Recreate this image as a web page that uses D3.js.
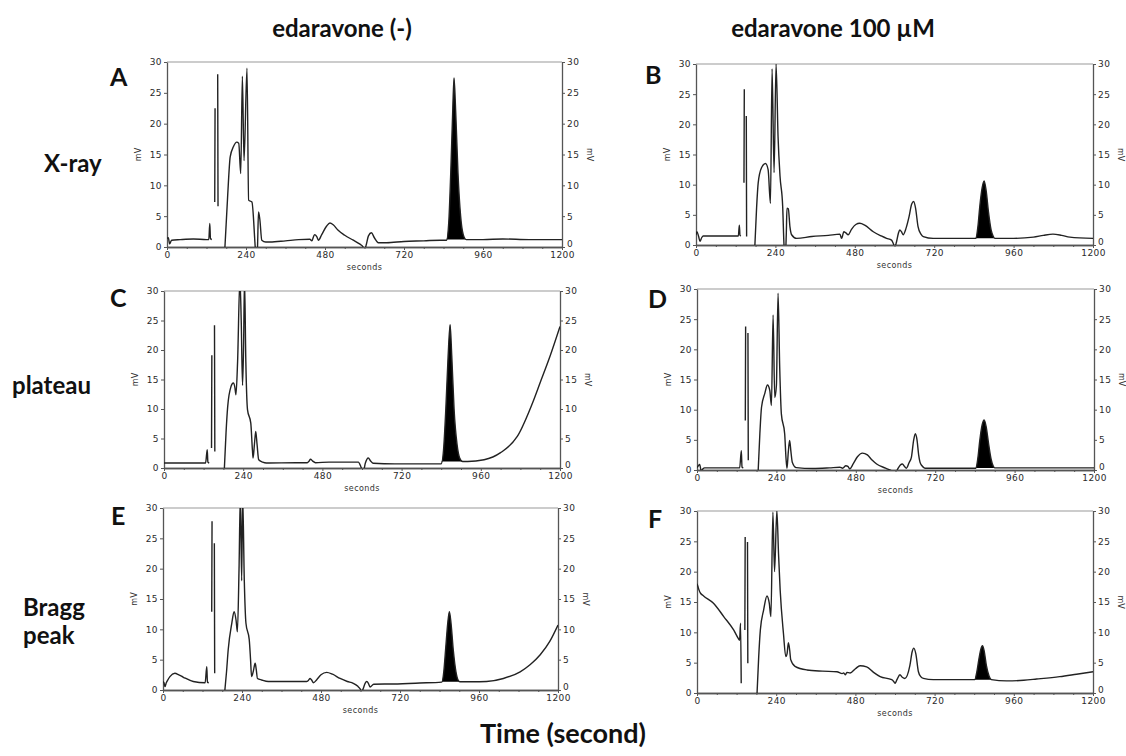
<!DOCTYPE html>
<html>
<head>
<meta charset="utf-8">
<script src="https://cdn.jsdelivr.net/npm/d3@7"></script>
<style>
  html, body { margin: 0; padding: 0; background: #fff; }
  svg text { font-family: "DejaVu Sans", Arial, sans-serif; }
  .big { font-family: Lato, "Open Sans", sans-serif !important; font-weight: 700; fill: #111; }
</style>
</head>
<body>
<svg id="chart" width="1126" height="756"></svg>
<script>
// ---- data (seconds, mV); null marks a break in the trace ----
const columnTitles = ["edaravone (-)", "edaravone 100 \u00b5M"];
const rowLabels = [["X-ray"], ["plateau"], ["Bragg", "peak"]];
const panelLetters = ["A", "B", "C", "D", "E", "F"];
const xMajorTicks = [0, 240, 480, 720, 960, 1200];
const xMinorTicks = [60, 120, 180, 300, 360, 420, 540, 600, 660, 780, 840, 900, 1020, 1080, 1140];
const yTicks = [0, 5, 10, 15, 20, 25, 30];

const traceA = [
  [0,1.4],[4,1.5],[8,0.5],[14,1.1],[40,1.2],[80,1.3],[120,1.2],[127,1.2],[130,3.8],[132,1.4],[136,1.2],[138,null],
  [145,7.3],[146,22.5],[147,null],
  [154,28],[155,6.6],[156,null],
  [176,0],[184,8],[192,14.6],[202,16.3],[212,17.0],[218,16.8],[224,11.9],[229,27.7],[234,14],[243,29],[248,7.6],[258,7.3],[268,0],[272,-3],[275,0],[278,5.7],[282,4.5],[288,1.1],[300,0.8],[313,0.8],[360,1.0],[400,1.2],[434,1.25],[440,1.0],[448,2.0],[455,1.7],[460,1.1],[470,2.0],[485,3.4],[495,3.9],[505,3.6],[520,2.7],[540,1.9],[566,1.1],[585,0.5],[596,0],[600,-0.5],[605,0.3],[612,1.8],[621,2.3],[630,1.5],[642,0.7],[667,0.7],[720,0.9],[780,1.0],[830,1.1],
  [849,1.1],[856,4],[862,12],[868,22],[872,27.4],[877,22],[884,12],[892,5],[900,2],[909,1.2],
  [960,1.2],[1020,1.3],[1100,1.2],[1200,1.2]
];
const traceB = [
  [0,1.7],[3,2.2],[8,1.4],[12,0.6],[17,1.2],[22,1.5],[60,1.5],[100,1.5],[128,1.5],[131,3.3],[133,1.6],[136,1.5],[138,null],
  [145,10.3],[146,25.8],[147,null],
  [152,21.4],[153,1.4],[154,null],
  [178,0],[183,6],[188,10.3],[198,12.8],[210,13.5],[218,12.5],[225,6.9],[230,29.2],[236,12],[242,30],[248,18],[254,11.4],[262,6.4],[266,0],[270,-2],[273,2],[275,6.1],[279,6.0],[284,3],[289,1.7],[304,1.1],[350,1.4],[400,1.6],[435,1.8],[440,1.1],[447,2.2],[453,2.0],[460,1.7],[470,2.6],[483,3.4],[495,3.6],[510,3.3],[536,2.2],[560,1.5],[576,1.1],[591,0.8],[596,0.3],[601,-0.3],[606,0.5],[612,2.0],[616,2.5],[621,2.2],[626,1.7],[635,2.8],[644,4.7],[652,6.8],[658,7.2],[664,6.0],[671,3.1],[680,1.8],[687,1.4],[717,1.1],[780,1.1],
  [846,1.1],[852,3],[858,6.5],[865,9.5],[871,10.6],[877,9.0],[884,5.5],[892,2.5],[898,1.5],[903,1.1],
  [960,1.1],[1020,1.3],[1050,1.6],[1079,1.8],[1105,1.6],[1130,1.3],[1200,1.1]
];
const traceC = [
  [0,0.85],[60,0.85],[126,0.85],[131,3.1],[133,1.0],[137,0.85],[139,null],
  [144,3.4],[145,19.1],[146,null],
  [153,24.2],[154,2.8],[155,null],
  [183,0],[188,6],[193,10.4],[203,13.8],[210,14.4],[215,13.6],[218,12.4],[223,18],[230,32],[234,25],[238,14],[241,20],[244,32],[248,18],[253,9.9],[263,7.6],[268,3],[270,1.7],[274,4],[278,6.2],[282,4],[287,1.4],[299,1.0],[310,0.85],[400,0.9],[434,0.9],[440,1.2],[444,1.5],[450,1.2],[459,0.9],[500,1.0],[589,1.0],[596,0.3],[600,-0.3],[604,-0.6],[610,0.8],[619,1.7],[626,1.2],[634,0.8],[700,0.7],[780,0.7],
  [840,0.7],[847,3],[854,10],[861,19],[867,24.3],[872,19],[879,10],[888,4],[896,1.7],[905,1.1],
  [920,1.1],[970,1.4],[1020,2.6],[1070,5.3],[1120,11.5],[1140,14.5],[1170,19],[1200,24]
];
const traceD = [
  [0,0.4],[4,0.7],[8,0.9],[13,-0.2],[18,0.2],[23,0.35],[80,0.35],[129,0.35],[134,3.2],[136,0.5],[140,0.35],[142,null],
  [146,8.2],[147,23.8],[148,null],
  [154,22.7],[155,1.6],[156,null],
  [185,0],[190,6],[195,10.4],[205,12.7],[213,14.1],[220,13.2],[225,10.7],[230,25.7],[235,12],[240,14],[245,29.3],[250,17],[255,9.3],[265,6.0],[269,2],[272,0.3],[276,3],[280,4.9],[284,3],[288,1.3],[300,0.4],[350,0.25],[400,0.35],[432,0.45],[440,0.3],[450,0.7],[456,0.6],[462,0.2],[472,1.0],[485,2.2],[500,2.8],[515,2.5],[530,1.6],[543,1.0],[570,0.3],[590,-0.2],[598,-0.6],[605,0],[614,0.8],[621,1.0],[627,0.6],[633,0.3],[641,1.2],[648,2.1],[655,5.0],[660,6.0],[665,5.0],[670,2.5],[674,1.3],[680,0.7],[689,0.3],[760,0.3],
  [843,0.3],[849,2],[855,5],[862,7.5],[868,8.3],[874,7.2],[881,4.5],[889,1.8],[895,0.7],[900,0.35],
  [960,0.35],[1100,0.35],[1200,0.35]
];
const traceE = [
  [0,1.4],[3,1.2],[6,0.55],[10,1.2],[13,1.5],[21,2.2],[36,2.75],[48,2.5],[62,2.1],[92,1.4],[128,1.2],[133,3.85],[135,1.3],[139,1.2],[141,null],
  [148,12.9],[149,27.8],[150,null],
  [156,24.2],[157,2.75],[158,null],
  [188,0],[193,3],[198,6.6],[209,11.0],[216,12.9],[222,11.5],[226,9.6],[231,20],[235,32],[239,18],[242,32],[247,18],[252,11.0],[262,8.3],[266,5],[269,2.2],[274,3],[280,4.4],[283,3.5],[287,1.9],[300,1.65],[320,1.4],[400,1.4],[436,1.4],[442,1.6],[447,1.9],[452,1.6],[457,1.2],[467,1.7],[480,2.5],[497,2.9],[515,2.6],[538,1.9],[560,1.4],[578,1.1],[592,0.6],[600,0.1],[604,-0.3],[608,0.2],[614,1.1],[619,1.4],[624,1.1],[629,0.5],[640,0.95],[700,1.0],[780,1.15],
  [847,1.3],[853,3],[859,7],[865,11],[870,12.9],[875,11],[882,6.5],[890,3],[896,1.7],[902,1.35],
  [940,1.35],[983,1.4],[1034,1.9],[1085,3.0],[1116,4.2],[1146,5.8],[1175,8],[1200,10.7]
];
const traceF = [
  [0,18.0],[3,17.5],[6,17.0],[10,16.5],[20,16.0],[50,14.8],[81,12.6],[111,10.4],[125,9.0],[129,8.7],[132,11.5],[134,1.6],[135,null],
  [145,10.4],[146,25.7],[147,null],
  [153,24.9],[154,4.9],[155,null],
  [182,0],[187,6],[192,10.4],[202,13.7],[212,16.0],[219,14.8],[224,12.6],[230,29.8],[235,20],[242,30.1],[247,23],[252,17],[262,9.8],[269,6.0],[273,6.5],[277,8.3],[281,7],[284,5.5],[297,4.4],[333,3.8],[380,3.6],[424,3.5],[440,3.2],[444,3.3],[450,3.0],[454,3.4],[464,3.3],[480,4.0],[494,4.5],[514,4.3],[535,3.4],[555,2.7],[590,2.2],[596,1.9],[600,1.6],[606,2.2],[615,3.0],[622,2.6],[630,2.4],[645,4.5],[652,6.8],[657,7.4],[663,6.5],[671,3.5],[678,2.7],[686,2.4],[716,2.2],[780,2.2],
  [842,2.2],[848,3.5],[854,5.5],[860,7.2],[865,7.8],[870,7.0],[877,4.5],[885,2.8],[892,2.2],
  [938,2.0],[990,2.1],[1029,2.3],[1099,2.7],[1150,3.1],[1200,3.5]
];
// time window of the shaded (black) peak in each panel
const peakWindows = [[849, 909], [846, 903], [840, 905], [843, 900], [847, 902], [842, 892]];

const traces = [traceA, traceB, traceC, traceD, traceE, traceF];

// ---- layout of the six frames (pixels) ----
const frames = [
  { left: 167, right: 562, top: 62,  bottom: 247 },
  { left: 696, right: 1093, top: 64,  bottom: 245 },
  { left: 164, right: 560, top: 291, bottom: 468 },
  { left: 697, right: 1094, top: 289, bottom: 470 },
  { left: 163, right: 558, top: 508, bottom: 690 },
  { left: 697, right: 1093, top: 511, bottom: 693 }
];
const letterPos = [[110, 86], [645, 84], [110, 307], [648, 308], [111, 525], [648, 528]];

const svg = d3.select("#chart");

function drawPanel(i) {
  const f = frames[i];
  const x = d3.scaleLinear().domain([0, 1200]).range([f.left, f.right]);
  const y = d3.scaleLinear().domain([0, 30]).range([f.bottom, f.top]);
  const g = svg.append("g");

  g.append("clipPath").attr("id", "clip" + i)
    .append("rect")
    .attr("x", f.left).attr("y", f.top)
    .attr("width", f.right - f.left).attr("height", f.bottom - f.top);

  // frame top line
  g.append("line")
    .attr("x1", f.left).attr("x2", f.right)
    .attr("y1", f.top).attr("y2", f.top)
    .attr("stroke", "#999").attr("stroke-width", 1.2);

  const styleAxis = sel => {
    sel.select(".domain").attr("stroke", "#555").attr("stroke-width", 1.3);
    sel.selectAll(".tick line").attr("stroke", "#555");
    sel.selectAll("text").attr("fill", "#2a2a2a").style("font-size", "9px").style("letter-spacing", "0.4px");
  };

  // y axes, left and right
  g.append("g").attr("transform", `translate(${f.left},0)`)
    .call(d3.axisLeft(y).tickValues(yTicks).tickSize(3).tickPadding(2).tickSizeOuter(0))
    .call(styleAxis);
  g.append("g").attr("transform", `translate(${f.right},0)`)
    .call(d3.axisRight(y).tickValues(yTicks).tickSize(3).tickPadding(2).tickSizeOuter(0))
    .call(styleAxis)
    .call(sel => sel.selectAll(".tick text").filter(d => d === 0).attr("dy", "-0.05em"));

  // x axis, minor then major
  g.append("g").attr("transform", `translate(0,${f.bottom})`)
    .call(d3.axisBottom(x).tickValues(xMinorTicks).tickSize(2).tickFormat("").tickSizeOuter(0))
    .call(styleAxis);
  g.append("g").attr("transform", `translate(0,${f.bottom})`)
    .call(d3.axisBottom(x).tickValues(xMajorTicks).tickFormat(d3.format("d"))
      .tickSize(3).tickPadding(2).tickSizeOuter(0))
    .call(styleAxis);

  g.append("text")
    .attr("x", (f.left + f.right) / 2).attr("y", f.bottom + 23)
    .attr("text-anchor", "middle").attr("fill", "#333")
    .style("font-size", "8px").style("letter-spacing", "0.4px")
    .text("seconds");

  const ym = (f.top + f.bottom) / 2;
  [[f.left - 26, -90], [f.right + 25, 90]].forEach(([px, rot]) => {
    g.append("text")
      .attr("transform", `translate(${px},${ym}) rotate(${rot})`)
      .attr("text-anchor", "middle").attr("fill", "#333")
      .style("font-size", "8px")
      .text("mV");
  });

  const data = traces[i];
  const plot = g.append("g").attr("clip-path", `url(#clip${i})`);

  // shaded peak
  const [p0, p1] = peakWindows[i];
  const peakPts = data.filter(d => d[1] !== null && d[0] >= p0 && d[0] <= p1);
  const base = Math.max(peakPts[0][1], peakPts[peakPts.length - 1][1]);
  plot.append("path")
    .datum(peakPts)
    .attr("fill", "#000")
    .attr("d", d3.area().curve(d3.curveMonotoneX)
      .x(d => x(d[0])).y0(y(base)).y1(d => y(d[1])));

  // trace
  plot.append("path")
    .datum(data)
    .attr("fill", "none")
    .attr("stroke", "#222")
    .attr("stroke-width", 1.4)
    .attr("stroke-linejoin", "round")
    .attr("d", d3.line().curve(d3.curveMonotoneX)
      .defined(d => d[1] !== null)
      .x(d => x(d[0])).y(d => y(d[1])));

  svg.append("text").attr("class", "big")
    .attr("x", letterPos[i][0]).attr("y", letterPos[i][1])
    .style("font-size", "25px")
    .text(panelLetters[i]);
}

d3.range(6).forEach(drawPanel);

// column titles
[[342, 37], [833, 37]].forEach(([cx, cy], k) => {
  svg.append("text").attr("class", "big")
    .attr("x", cx).attr("y", cy).attr("text-anchor", "middle")
    .style("font-size", "24px")
    .text(columnTitles[k]);
});

// row labels
const rowPos = [[44, 172], [12, 394], [23, 616]];
rowLabels.forEach((lines, r) => {
  lines.forEach((s, j) => {
    svg.append("text").attr("class", "big")
      .attr("x", rowPos[r][0]).attr("y", rowPos[r][1] + j * 28)
      .style("font-size", "24px")
      .text(s);
  });
});

svg.append("text").attr("class", "big")
  .attr("x", 563).attr("y", 743).attr("text-anchor", "middle")
  .style("font-size", "27px")
  .text("Time (second)");
</script>
</body>
</html>
